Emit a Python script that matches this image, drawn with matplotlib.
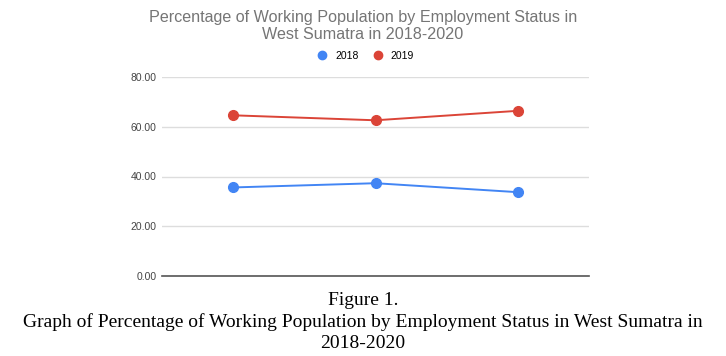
import matplotlib.pyplot as plt
from matplotlib.lines import Line2D

# data
categories = ['A', 'B', 'C']
s2018 = [35.6, 37.3, 33.7]
s2019 = [64.6, 62.6, 66.4]
yticks = [0, 20, 40, 60, 80]

blue = '#4285f4'
red = '#db4437'

fig = plt.figure(figsize=(7.26, 3.56), dpi=100)
ax = fig.add_axes([162/726, 1 - 276/356, 427/726, 199/356])

x = range(len(categories))
ax.plot(x, s2018, color=blue, lw=1.4, marker='o', ms=7, zorder=3)
ax.plot(x, s2019, color=red, lw=1.4, marker='o', ms=7, zorder=3)

ax.set_xlim(-0.5, len(categories) - 0.5)
ax.set_ylim(0, 80)
ax.set_yticks(yticks)
ax.set_yticklabels([f'{v:.2f}' for v in yticks], fontsize=7.5, color='#444444',
                   family='Liberation Sans')
ax.set_xticks([])
ax.tick_params(axis='y', length=0, pad=4)
ax.grid(axis='y', color='#dddddd', lw=1)
ax.set_axisbelow(True)
for s in ['top', 'right', 'left']:
    ax.spines[s].set_visible(False)
ax.spines['bottom'].set_color('#555555')
ax.spines['bottom'].set_linewidth(1.2)

fig.text(0.5, 1 - 26/356, 'Percentage of Working Population by Employment Status in\nWest Sumatra in 2018-2020',
         ha='center', va='center', fontsize=11.6, color='#757575', family='Liberation Sans',
         linespacing=1.1)

handles = [Line2D([], [], color=blue, marker='o', ls='', ms=6),
           Line2D([], [], color=red, marker='o', ls='', ms=6)]
fig.legend(handles, ['2018', '2019'], loc='center', bbox_to_anchor=(0.5, 1 - 56/356),
           ncol=2, frameon=False, handletextpad=0.2, columnspacing=0.9,
           prop={'family': 'Liberation Sans', 'size': 7.5})

fig.text(0.5, 1 - 322/356, 'Figure 1.\nGraph of Percentage of Working Population by Employment Status in West Sumatra in\n2018-2020',
         ha='center', va='center', fontsize=14, color='black', family='Liberation Serif',
         linespacing=1.32)

fig.savefig('out.png', dpi=100)
